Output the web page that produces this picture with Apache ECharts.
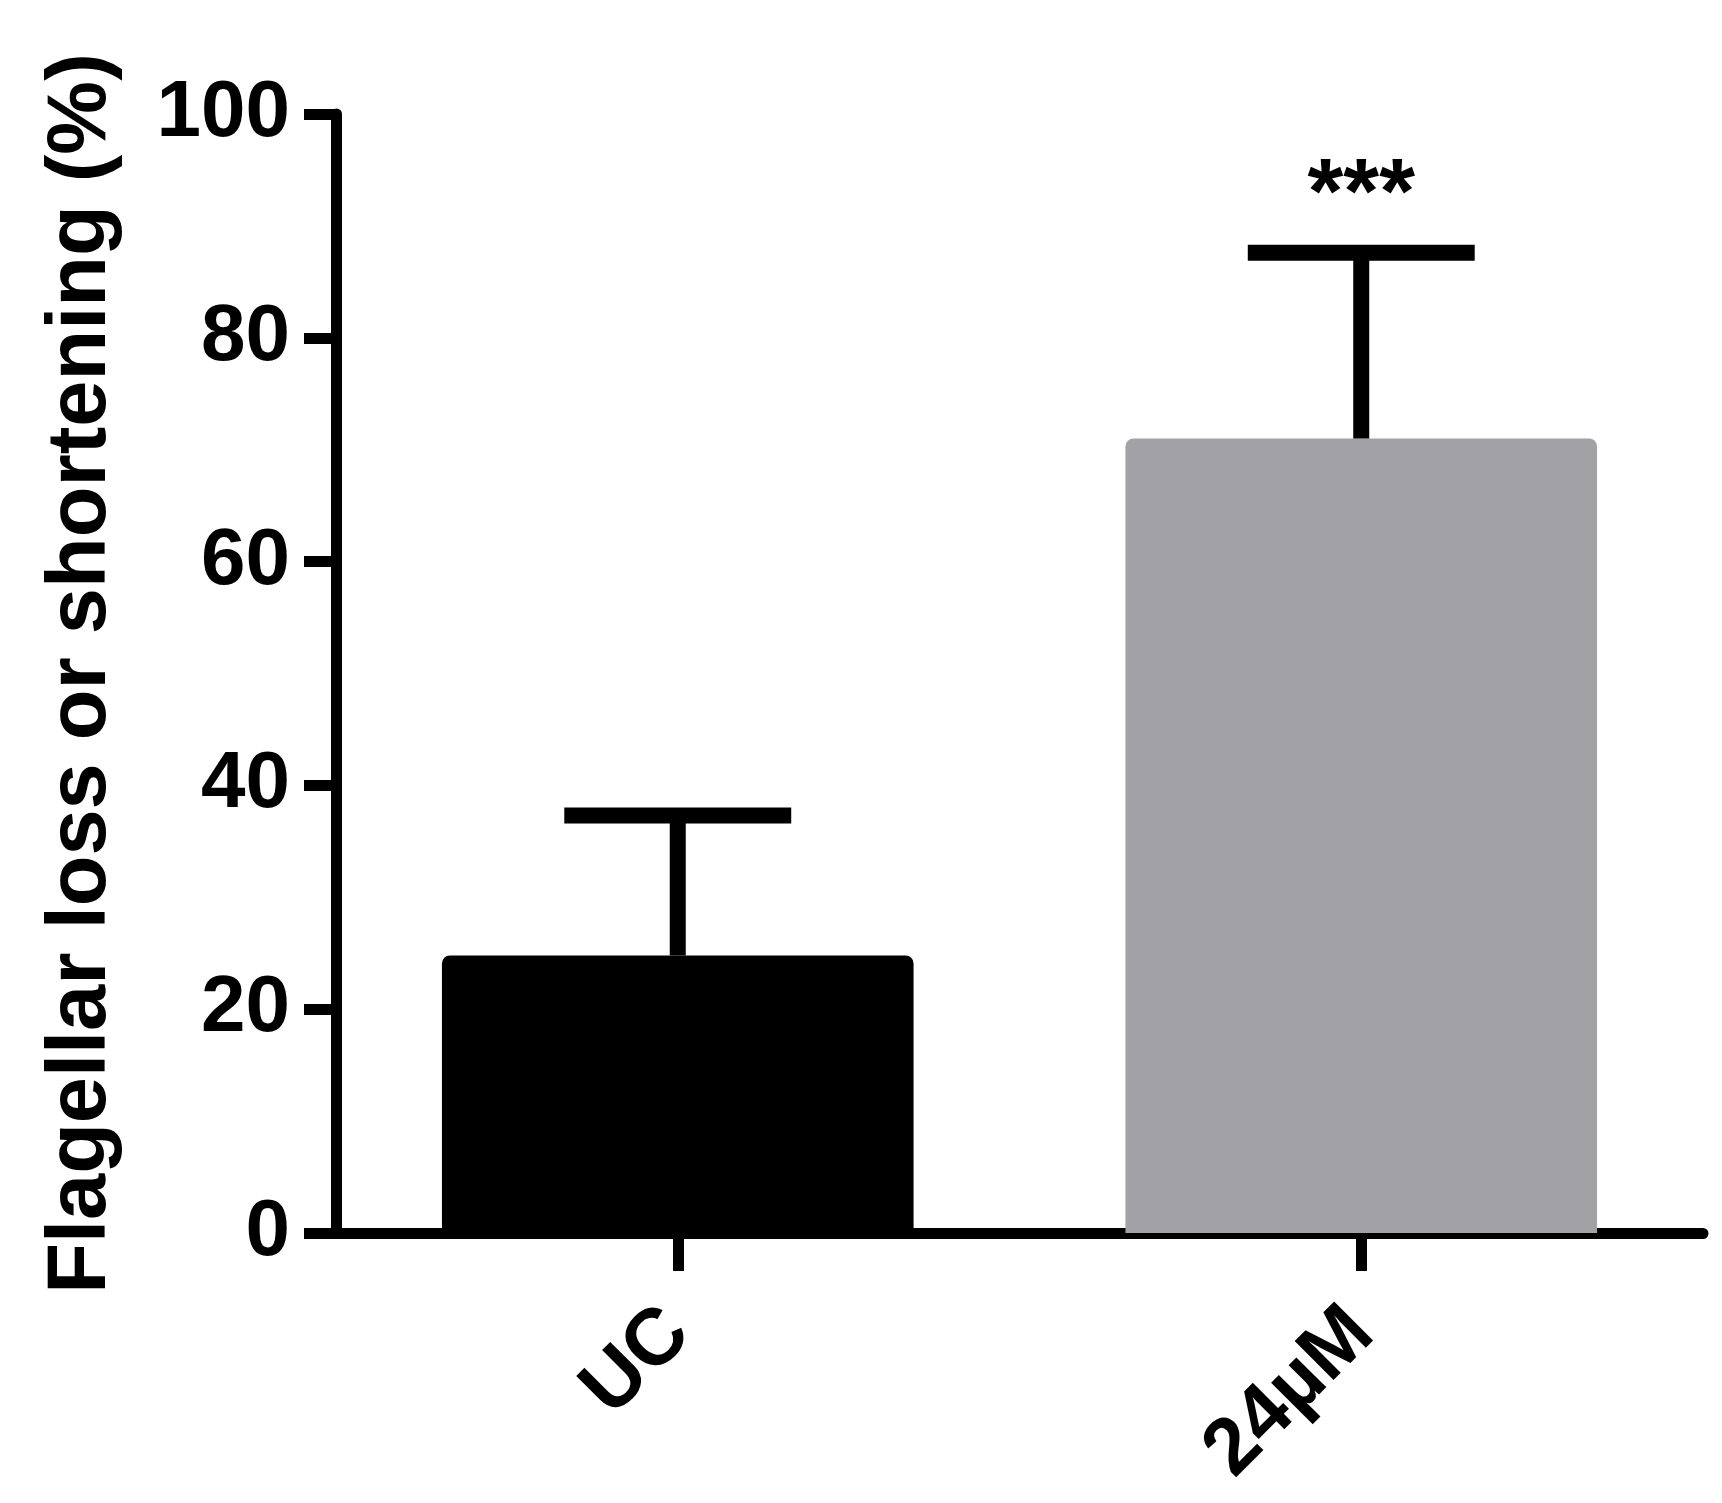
<!DOCTYPE html>
<html>
<head>
<meta charset="utf-8">
<script src="https://cdn.jsdelivr.net/npm/echarts@6/dist/echarts.min.js"></script>
<style>
  html, body { margin: 0; padding: 0; background: #ffffff; }
  #chart { width: 1722px; height: 1503px; }
</style>
</head>
<body>
<div id="chart"></div>
<script>
// ---- data ----
const categories = ['UC', '24\u00b5M'];
const means = [24.8, 71.0];
const errors = [12.5, 16.6];
const significance = ['', '***'];
const barColors = ['#000000', '#a2a1a6'];
const yTicks = [0, 20, 40, 60, 80, 100];
const yTitle = 'Flagellar loss or shortening (%)';

const FONT = '"Liberation Sans", Arial, Helvetica, sans-serif';

const chart = echarts.init(document.getElementById('chart'), null, { renderer: 'canvas' });

const barData = means.map((v, i) => ({
  value: v,
  itemStyle: { color: barColors[i] }
}));
const errData = means.map((v, i) => [i, v, errors[i], significance[i]]);

const option = {
  backgroundColor: '#ffffff',
  animation: false,
  grid: { left: 336, right: 19, top: 114, bottom: 270, containLabel: false },
  xAxis: {
    type: 'category',
    data: categories,
    axisLine: { show: true, lineStyle: { color: '#000', width: 11 } },
    axisTick: { show: true, alignWithLabel: true, length: 38, lineStyle: { color: '#000', width: 11 } },
    axisLabel: {
      rotate: 45,
      margin: 88,
      color: '#000',
      fontSize: 80,
      fontWeight: 'bold',
      fontFamily: FONT
    },
    splitLine: { show: false }
  },
  yAxis: {
    type: 'value',
    min: yTicks[0],
    max: yTicks[yTicks.length - 1],
    interval: yTicks[1] - yTicks[0],
    name: yTitle,
    nameLocation: 'middle',
    nameGap: 212,
    nameRotate: 90,
    nameTextStyle: {
      color: '#000',
      fontSize: 83,
      fontWeight: 'bold',
      fontFamily: FONT
    },
    axisLine: { show: true, lineStyle: { color: '#000', width: 11 } },
    axisTick: { show: true, inside: false, length: 32, lineStyle: { color: '#000', width: 11 } },
    axisLabel: {
      margin: 46,
      color: '#000',
      fontSize: 80,
      fontWeight: 'bold',
      fontFamily: FONT
    },
    splitLine: { show: false }
  },
  series: [
    {
      type: 'bar',
      data: barData,
      barWidth: '69%',
      itemStyle: { borderRadius: [8, 8, 0, 0] },
      z: 1
    },
    {
      type: 'custom',
      data: errData,
      z: 3,
      renderItem: function (params, api) {
        const idx = api.value(0);
        const mean = api.value(1);
        const err = api.value(2);
        const sig = significance[params.dataIndex];
        const base = api.coord([idx, mean]);
        const top = api.coord([idx, mean + err]);
        const band = api.size([1, 0])[0];
        const capHalf = band * 0.166;
        const lw = 16;
        const children = [
          {
            type: 'line',
            shape: { x1: base[0], y1: base[1], x2: top[0], y2: top[1] },
            style: { stroke: '#000', lineWidth: lw }
          },
          {
            type: 'line',
            shape: { x1: top[0] - capHalf, y1: top[1], x2: top[0] + capHalf, y2: top[1] },
            style: { stroke: '#000', lineWidth: lw }
          }
        ];
        if (sig) {
          children.push({
            type: 'text',
            style: {
              text: sig,
              x: top[0],
              y: top[1] - 9,
              align: 'center',
              verticalAlign: 'bottom',
              fill: '#000',
              font: 'bold 92px ' + FONT
            }
          });
        }
        return { type: 'group', children: children };
      }
    }
  ]
};

chart.setOption(option);
</script>
</body>
</html>
